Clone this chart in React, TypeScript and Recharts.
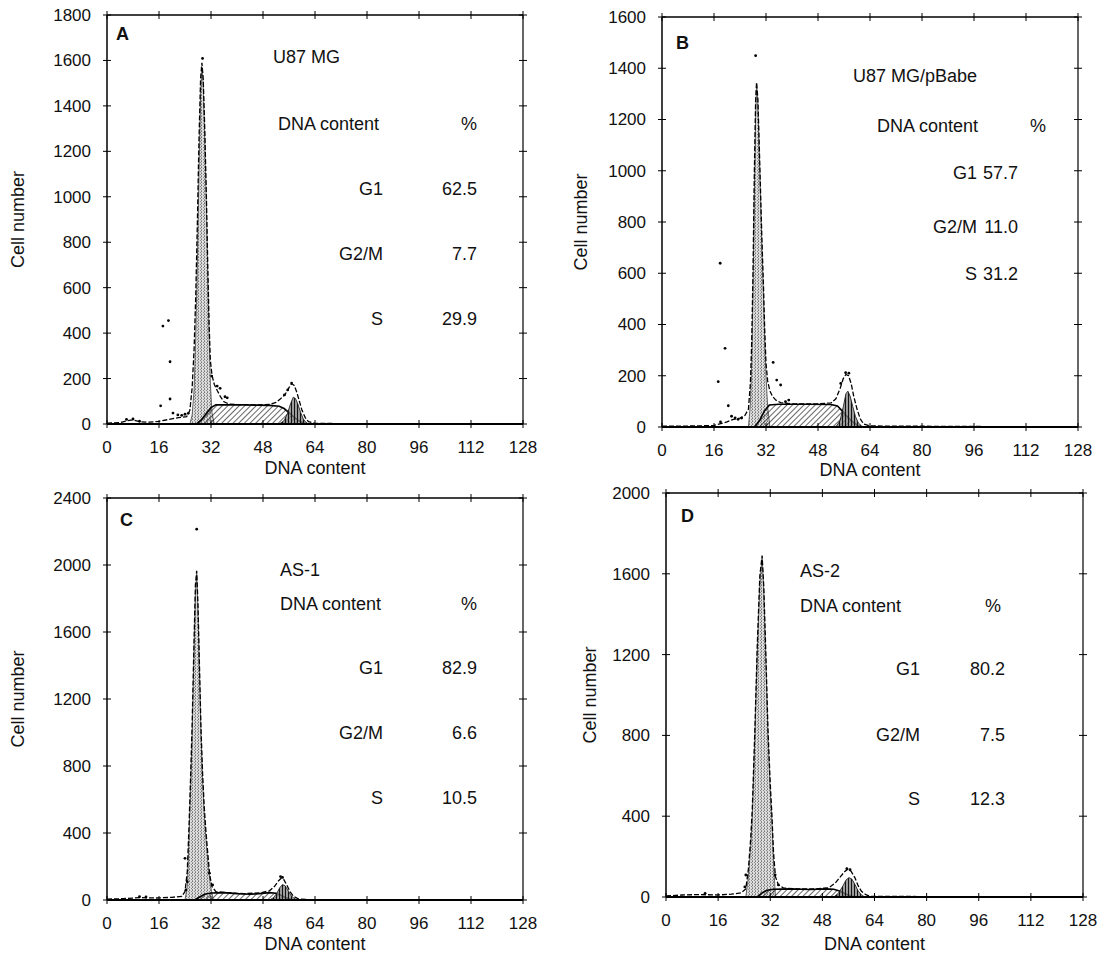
import React from "react";
import { ComposedChart, Area, Line, Scatter, XAxis, YAxis, ReferenceLine } from "recharts";

const FONT = '"Liberation Sans", Arial, Helvetica, sans-serif';

const X_TICKS = [0, 16, 32, 48, 64, 80, 96, 112, 128];
const A_Y_TICKS = [0, 200, 400, 600, 800, 1000, 1200, 1400, 1600, 1800];
const B_Y_TICKS = [0, 200, 400, 600, 800, 1000, 1200, 1400, 1600];
const C_Y_TICKS = [0, 400, 800, 1200, 1600, 2000, 2400];
const D_Y_TICKS = [0, 400, 800, 1200, 1600, 2000];

// [DNA content, cell number]
const A_G1 = [[25.5, 0], [26.2, 40], [26.8, 150], [27.3, 380], [27.8, 700], [28.3, 1100], [28.8, 1450], [29.2, 1570], [29.6, 1500], [30.1, 1250], [30.6, 950], [31.0, 650], [31.4, 400], [31.8, 180], [32.3, 50], [33, 0]];
const A_S = [[27.5, 0], [29, 18], [30.5, 45], [32, 72], [33.5, 84], [40, 85], [46, 83], [50, 82], [53, 78], [54.5, 68], [56, 50], [57.5, 30], [59, 14], [60.5, 4], [61.5, 0]];
const A_G2 = [[53, 0], [54.5, 15], [55.5, 45], [56.5, 90], [57.3, 118], [58, 112], [58.8, 85], [59.6, 50], [60.4, 22], [61.2, 8], [62, 0]];
const A_FIT = [[0, 4], [4, 6], [6, 14], [8, 18], [10, 10], [13, 8], [16, 12], [19, 20], [22, 28], [24.5, 32], [25.5, 60], [26.2, 160], [26.8, 330], [27.3, 560], [27.8, 880], [28.3, 1250], [28.8, 1520], [29.2, 1590], [29.6, 1520], [30.1, 1290], [30.6, 990], [31.0, 700], [31.4, 450], [31.8, 280], [32.3, 215], [33, 175], [34, 145], [35, 118], [36, 98], [37.5, 88], [40, 86], [46, 84], [50, 86], [52, 95], [53.5, 112], [54.8, 130], [56, 160], [56.8, 178], [57.6, 170], [58.4, 140], [59.2, 100], [60, 60], [61, 28], [62, 10], [64, 3], [70, 2], [128, 0]];
const A_DOTS = [[16.5, 80], [17.2, 431], [18.9, 455], [19.4, 274], [19.4, 110], [20.3, 48], [21.8, 40], [23, 38], [24, 43], [25, 47], [29.4, 1609], [32.2, 211], [33.9, 167], [34.8, 157], [36.3, 120], [37, 115], [54.6, 128], [55.6, 150], [56.8, 180], [6, 20], [8, 22], [10, 12]];

const B_G1 = [[26.6, 0], [27.2, 90], [27.6, 250], [28.0, 520], [28.4, 900], [28.8, 1200], [29.1, 1340], [29.5, 1260], [29.9, 1080], [30.3, 900], [30.7, 720], [31.2, 520], [31.6, 340], [32.0, 200], [32.5, 80], [33.2, 0]];
const B_S = [[28.5, 0], [30, 25], [31.5, 62], [33, 86], [36, 89], [45, 89], [52, 88], [54, 82], [55.5, 62], [57, 40], [58.5, 22], [60, 8], [61, 0]];
const B_G2 = [[53.5, 0], [54.8, 25], [55.8, 80], [56.6, 130], [57.2, 140], [57.9, 120], [58.7, 80], [59.5, 42], [60.4, 16], [61.5, 3], [62.5, 0]];
const B_FIT = [[0, 3], [10, 4], [16, 6], [20, 20], [22, 30], [24, 35], [25.5, 45], [26.6, 70], [27.2, 170], [27.6, 330], [28.0, 600], [28.4, 980], [28.8, 1270], [29.1, 1345], [29.5, 1280], [29.9, 1110], [30.3, 930], [30.7, 750], [31.2, 560], [31.6, 380], [32.0, 250], [32.5, 180], [33.2, 140], [34, 120], [35, 105], [36.5, 95], [40, 90], [48, 90], [52, 94], [53.5, 110], [54.8, 150], [55.8, 190], [56.6, 205], [57.4, 200], [58.2, 170], [59, 120], [60, 70], [61, 32], [62, 12], [64, 4], [128, 0]];
const B_DOTS = [[17.9, 639], [19.4, 307], [17.3, 177], [20.4, 83], [21.4, 42], [22.5, 36], [23.4, 30], [24.5, 35], [28.8, 1449], [34.2, 252], [35.3, 183], [36.5, 164], [38, 99], [39, 105], [55, 170], [56.5, 212], [57.5, 210], [18, 20]];

const C_G1 = [[24, 0], [24.7, 80], [25.2, 350], [25.7, 650], [26.2, 980], [26.7, 1420], [27.2, 1820], [27.6, 1950], [28.0, 1720], [28.5, 1320], [28.9, 1000], [29.4, 720], [29.9, 520], [30.4, 380], [31, 230], [31.8, 90], [32.7, 0]];
const C_S = [[27, 0], [28.5, 18], [30, 34], [32, 42], [36, 44], [40, 38], [44, 34], [47, 38], [50, 44], [52, 40], [53.5, 28], [55, 14], [56.5, 4], [57.5, 0]];
const C_G2 = [[50, 0], [51.3, 15], [52.3, 42], [53.2, 75], [54, 92], [54.8, 85], [55.6, 60], [56.5, 30], [57.5, 10], [58.5, 0]];
const C_FIT = [[0, 5], [5, 8], [10, 14], [15, 12], [20, 16], [23, 22], [24, 50], [24.7, 170], [25.2, 420], [25.7, 720], [26.2, 1050], [26.7, 1480], [27.2, 1880], [27.6, 1965], [28.0, 1760], [28.5, 1360], [28.9, 1040], [29.4, 760], [29.9, 560], [30.4, 420], [31, 280], [31.6, 150], [32.3, 80], [33.5, 50], [36, 45], [42, 38], [47, 42], [50, 55], [51.5, 80], [52.8, 115], [53.6, 130], [54.4, 122], [55.3, 90], [56.3, 50], [57.5, 20], [59, 6], [62, 2], [128, 0]];
const C_DOTS = [[27.6, 2214], [24, 249], [24.7, 109], [24.3, 60], [31.5, 160], [32.5, 90], [53.4, 140], [54, 135], [10, 20], [12, 18]];

const D_G1 = [[24.5, 0], [25.3, 100], [26, 250], [26.5, 400], [27.3, 800], [28, 1200], [28.8, 1550], [29.5, 1680], [30, 1520], [30.6, 1200], [31.3, 800], [32, 520], [32.5, 380], [33, 170], [33.6, 0]];
const D_S = [[28, 0], [29.5, 20], [31, 33], [33, 38], [38, 40], [44, 37], [49, 40], [51.5, 38], [53.5, 28], [55, 16], [56.5, 6], [58, 0]];
const D_G2 = [[51.5, 0], [53, 20], [54.3, 55], [55.3, 85], [56.2, 96], [57.1, 88], [58, 62], [59, 30], [60, 10], [61, 0]];
const D_FIT = [[0, 5], [5, 10], [10, 12], [16, 10], [20, 14], [23, 20], [24.5, 40], [25.3, 140], [26, 290], [26.5, 440], [27.3, 840], [28, 1240], [28.8, 1590], [29.5, 1690], [30, 1540], [30.6, 1230], [31.3, 830], [32, 560], [32.5, 410], [33, 220], [33.6, 100], [34.5, 60], [36, 45], [40, 40], [46, 40], [50, 46], [52, 70], [53.5, 100], [54.8, 125], [55.8, 138], [56.8, 128], [58, 95], [59, 55], [60, 28], [61.5, 10], [63, 3], [128, 0]];
const D_DOTS = [[24.5, 109], [24.2, 50], [33.5, 110], [34.5, 60], [55.5, 140], [56.5, 135], [12, 18]];

// phase table text
const A_ROWS = [["G1", "62.5"], ["G2/M", "7.7"], ["S", "29.9"]];
const B_ROWS = [["G1", "57.7"], ["G2/M", "11.0"], ["S", "31.2"]];
const C_ROWS = [["G1", "82.9"], ["G2/M", "6.6"], ["S", "10.5"]];
const D_ROWS = [["G1", "80.2"], ["G2/M", "7.5"], ["S", "12.3"]];

const pts = (rows: number[][]) => rows.map(([x, v]) => ({ x, v }));

const PANELS = [
  {
    key: "A", chartLeft: 0, plotLeft: 107, plotRight: 523, plotTop: 15, plotBottom: 424,
    yMax: 1800, yTicks: A_Y_TICKS, titleX: 18, xTitleOffset: 37,
    g1: A_G1, s: A_S, g2: A_G2, fit: A_FIT, dots: A_DOTS,
    letter: [116, 40], name: "U87 MG", nameAt: [273, 63], headY: 129.5, headStart: 278,
    labelEnd: 383, valueEnd: 477, pctEnd: 477, rowYs: [194.5, 259.5, 324.5], rows: A_ROWS,
  },
  {
    key: "B", chartLeft: 545, plotLeft: 662, plotRight: 1078, plotTop: 17, plotBottom: 427,
    yMax: 1600, yTicks: B_Y_TICKS, titleX: 581, xTitleOffset: 36,
    g1: B_G1, s: B_S, g2: B_G2, fit: B_FIT, dots: B_DOTS,
    letter: [676, 49], name: "U87 MG/pBabe", nameAt: [853, 81.5], headY: 131.5, headStart: 877,
    labelEnd: 977, valueEnd: 1018, pctEnd: 1046, rowYs: [178.5, 232.5, 279.5], rows: B_ROWS,
  },
  {
    key: "C", chartLeft: 0, plotLeft: 107, plotRight: 523, plotTop: 498, plotBottom: 900,
    yMax: 2400, yTicks: C_Y_TICKS, titleX: 18, xTitleOffset: 37,
    g1: C_G1, s: C_S, g2: C_G2, fit: C_FIT, dots: C_DOTS,
    letter: [120, 526], name: "AS-1", nameAt: [280, 576], headY: 610, headStart: 280,
    labelEnd: 383, valueEnd: 477, pctEnd: 477, rowYs: [673.5, 738.5, 803.5], rows: C_ROWS,
  },
  {
    key: "D", chartLeft: 548, plotLeft: 666, plotRight: 1083, plotTop: 493, plotBottom: 897,
    yMax: 2000, yTicks: D_Y_TICKS, titleX: 590, xTitleOffset: 40,
    g1: D_G1, s: D_S, g2: D_G2, fit: D_FIT, dots: D_DOTS,
    letter: [681, 522], name: "AS-2", nameAt: [800, 576.5], headY: 611.5, headStart: 800,
    labelEnd: 920, valueEnd: 1005, pctEnd: 1001, rowYs: [674.5, 740.5, 804.5], rows: D_ROWS,
  },
];

const txt = { fontFamily: FONT, fontSize: 18, fill: "#111" };

function Panel({ p }: { p: any }) {
  const axisW = p.plotLeft - p.chartLeft;
  const plotW = p.plotRight - p.plotLeft;
  const plotH = p.plotBottom - p.plotTop;
  const TOP = 10;
  const width = axisW + plotW + 20;
  const height = TOP + plotH + 62;
  const yLeft = axisW;
  const yRight = axisW + plotW;
  const xTop = TOP;
  const xBottom = TOP + plotH;

  return (
    <div style={{ position: "absolute", left: p.chartLeft, top: p.plotTop - TOP }}>
      <ComposedChart width={width} height={height} margin={{ top: TOP, right: 20, bottom: 0, left: 0 }}>
        <XAxis
          type="number"
          dataKey="x"
          domain={[0, 128]}
          ticks={X_TICKS}
          allowDataOverflow
          height={62}
          axisLine={{ stroke: "#000", strokeWidth: 2 }}
          tickLine={false}
          tickSize={4}
          tickMargin={8}
          tick={(t: any) => (
            <g>
              <line x1={t.x} x2={t.x} y1={xBottom - 4} y2={xBottom + 4} stroke="#000" />
              <line x1={t.x} x2={t.x} y1={xTop - 4} y2={xTop + 4} stroke="#000" />
              <text x={t.x} y={xBottom + 29} textAnchor="middle" fontFamily={FONT} fontSize={17} fill="#111">
                {t.payload.value}
              </text>
            </g>
          )}
          label={{ value: "DNA content", position: "insideTop", offset: p.xTitleOffset, style: txt }}
        />
        <YAxis
          type="number"
          domain={[0, p.yMax]}
          ticks={p.yTicks}
          allowDataOverflow
          width={axisW}
          axisLine={{ stroke: "#000", strokeWidth: 1.5 }}
          tickLine={false}
          tick={(t: any) => (
            <g>
              <line x1={yLeft - 4} x2={yLeft + 4} y1={t.y} y2={t.y} stroke="#000" />
              <line x1={yRight - 4} x2={yRight + 4} y1={t.y} y2={t.y} stroke="#000" />
              <text x={yLeft - 16} y={t.y} dy="0.35em" textAnchor="end" fontFamily={FONT} fontSize={17} fill="#111">
                {t.payload.value}
              </text>
            </g>
          )}
          label={{
            value: "Cell number",
            angle: -90,
            position: "insideLeft",
            offset: p.titleX - p.chartLeft,
            style: { ...txt, textAnchor: "middle" },
          }}
        />
        <ReferenceLine y={p.yMax} stroke="#000" strokeWidth={1.5} />
        <ReferenceLine x={128} stroke="#000" strokeWidth={1.2} />
        <Area data={pts(p.g1)} dataKey="v" type="linear" fill="url(#g1fill)" fillOpacity={1} stroke="#444" strokeWidth={0.8} isAnimationActive={false} />
        <Area data={pts(p.s)} dataKey="v" type="linear" fill="url(#shatch)" fillOpacity={1} stroke="#000" strokeWidth={1.6} isAnimationActive={false} />
        <Area data={pts(p.g2)} dataKey="v" type="linear" fill="url(#g2fill)" fillOpacity={1} stroke="#111" strokeWidth={0.8} isAnimationActive={false} />
        <Line data={pts(p.fit)} dataKey="v" type="linear" stroke="#000" strokeWidth={1.3} strokeDasharray="5 2" dot={false} isAnimationActive={false} />
        <Scatter
          data={pts(p.dots)}
          dataKey="v"
          fill="#000"
          isAnimationActive={false}
          shape={(s: any) => <circle cx={s.cx} cy={s.cy} r={1.4} fill="#000" />}
        />
      </ComposedChart>
    </div>
  );
}

function Notes({ p }: { p: any }) {
  return (
    <g>
      <text x={p.letter[0]} y={p.letter[1]} fontWeight="bold" fontSize={18} fontFamily={FONT} fill="#111">{p.key}</text>
      <text x={p.nameAt[0]} y={p.nameAt[1]} fontFamily={FONT} fontSize={18} fill="#111">{p.name}</text>
      <text x={p.headStart} y={p.headY} fontFamily={FONT} fontSize={18} fill="#111">DNA content</text>
      <text x={p.pctEnd} y={p.headY} textAnchor="end" fontFamily={FONT} fontSize={18} fill="#111">%</text>
      {p.rows.map((r: string[], i: number) => (
        <g key={r[0]}>
          <text x={p.labelEnd} y={p.rowYs[i]} textAnchor="end" fontFamily={FONT} fontSize={18} fill="#111">{r[0]}</text>
          <text x={p.valueEnd} y={p.rowYs[i]} textAnchor="end" fontFamily={FONT} fontSize={18} fill="#111">{r[1]}</text>
        </g>
      ))}
    </g>
  );
}

export default function App() {
  return (
    <div style={{ position: "absolute", left: 0, top: 0, width: 1113, height: 956, background: "#fff" }}>
      <svg width={0} height={0} style={{ position: "absolute" }}>
        <defs>
          <pattern id="g1fill" width="3" height="3" patternUnits="userSpaceOnUse">
            <rect width="3" height="3" fill="#dcdcdc" />
            <rect x="0" y="0" width="1" height="1" fill="#777" />
            <rect x="0" y="2" width="1" height="1" fill="#999" />
            <rect x="2" y="1" width="1" height="1" fill="#888" />
          </pattern>
          <pattern id="shatch" width="4" height="4" patternUnits="userSpaceOnUse" patternTransform="rotate(45)">
            <line x1="0" y1="0" x2="0" y2="4" stroke="#000" strokeWidth="1.2" />
          </pattern>
          <pattern id="g2fill" width="3" height="3" patternUnits="userSpaceOnUse">
            <rect width="3" height="3" fill="#7a7a7a" fillOpacity="0.75" />
            <line x1="0.5" y1="0" x2="0.5" y2="3" stroke="#111" />
          </pattern>
        </defs>
      </svg>
      {PANELS.map((p) => (
        <Panel key={p.key} p={p} />
      ))}
      <svg width={1113} height={956} style={{ position: "absolute", left: 0, top: 0, pointerEvents: "none" }}>
        {PANELS.map((p) => (
          <Notes key={p.key} p={p} />
        ))}
      </svg>
    </div>
  );
}
